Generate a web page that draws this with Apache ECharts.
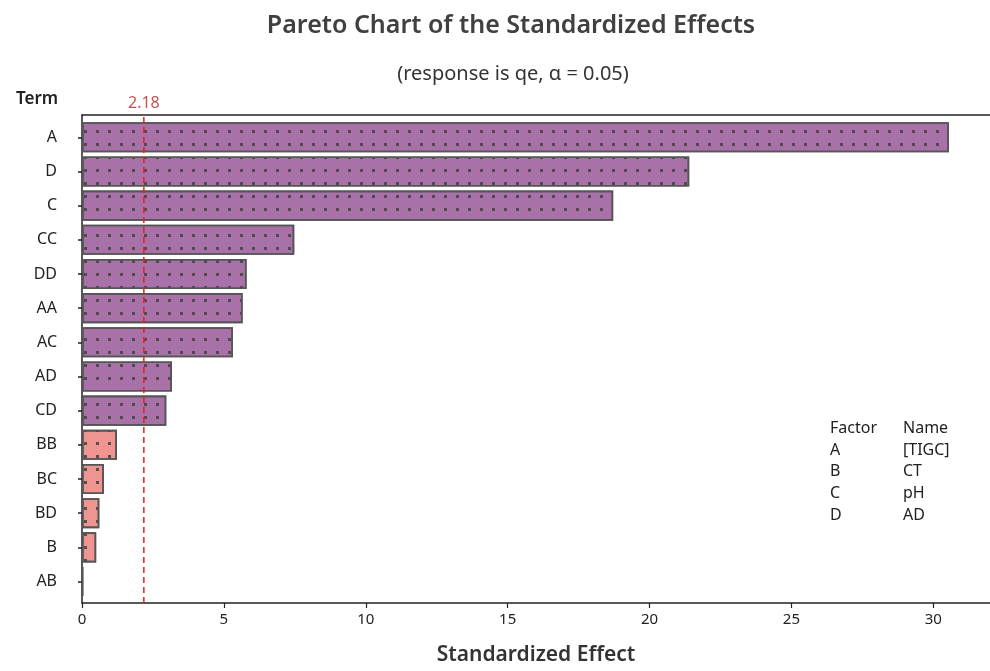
<!DOCTYPE html>
<html>
<head>
<meta charset="utf-8">
<script src="https://cdn.jsdelivr.net/npm/echarts@6/dist/echarts.min.js"></script>
<style>html,body{margin:0;padding:0;background:#fff;}#c{width:990px;height:671px;}</style>
</head>
<body>
<div id="c"></div>
<script>
const terms = ['A','D','C','CC','DD','AA','AC','AD','CD','BB','BC','BD','B','AB'];
const effects = [30.55, 21.4, 18.72, 7.48, 5.8, 5.66, 5.32, 3.17, 2.97, 1.23, 0.77, 0.61, 0.5, 0.04];
const threshold = 2.18;
const xTicks = [0, 5, 10, 15, 20, 25, 30];
const factors = ['A','B','C','D'];
const factorNames = ['[TIGC]','CT','pH','AD'];

const FONT = '"Noto Sans", "Open Sans", sans-serif';
const purple = '#a871a8';
const pink = '#ee9591';

const chart = echarts.init(document.getElementById('c'), null, {renderer: 'canvas'});

const legendTexts = [];
legendTexts.push({type:'text', left:830, top:420, style:{text:'Factor', font:'16px ' + FONT, fill:'#222'}});
legendTexts.push({type:'text', left:903, top:420, style:{text:'Name', font:'16px ' + FONT, fill:'#222'}});
factors.forEach((f, i) => {
  legendTexts.push({type:'text', left:830, top:442 + i*21.8, style:{text:f, font:'16px ' + FONT, fill:'#222'}});
  legendTexts.push({type:'text', left:903, top:442 + i*21.8, style:{text:factorNames[i], font:'16px ' + FONT, fill:'#222'}});
});

const option = {
  backgroundColor: '#fff',
  animation: false,
  title: [
    {text: 'Pareto Chart of the Standardized Effects', left: 506, top: 8, textAlign: 'center',
     textStyle: {fontFamily: FONT, fontSize: 25, fontWeight: 600, color: '#404040'}},
    {text: '(response is qe, α = 0.05)', left: 508, top: 59, textAlign: 'center',
     textStyle: {fontFamily: FONT, fontSize: 20, fontWeight: 'normal', color: '#333'}},
    {text: 'Term', left: 11, top: 86,
     textStyle: {fontFamily: FONT, fontSize: 17, fontWeight: 600, color: '#222'}}
  ],
  grid: [
    {left: 82, right: 0, top: 115, bottom: 67},
    {left: 82, right: 0, top: 120.2, bottom: 72.4}
  ],
  xAxis: [
    {type: 'value', gridIndex: 0, min: 0, max: 32, interval: 5, position: 'bottom',
     axisLine: {show: true, lineStyle: {color: '#222', width: 1.5}},
     axisTick: {show: true, length: 5, customValues: xTicks, lineStyle: {color: '#222', width: 1.2}},
     axisLabel: {show: true, margin: 9, fontFamily: FONT, fontSize: 15, color: '#222', customValues: xTicks},
     splitLine: {show: false},
     name: 'Standardized Effect', nameLocation: 'middle', nameGap: 42,
     nameTextStyle: {fontFamily: FONT, fontSize: 21, fontWeight: 600, color: '#333'}},
    {type: 'value', gridIndex: 0, min: 0, max: 32, position: 'top',
     axisLine: {show: true, lineStyle: {color: '#222', width: 1.5}},
     axisTick: {show: false}, axisLabel: {show: false}, splitLine: {show: false}},
    {type: 'value', gridIndex: 1, min: 0, max: 32, show: false}
  ],
  yAxis: [
    {type: 'value', gridIndex: 0, min: 0, max: 1,
     axisLine: {show: true, lineStyle: {color: '#222', width: 1.5}},
     axisTick: {show: false}, axisLabel: {show: false}, splitLine: {show: false}},
    {type: 'category', gridIndex: 1, data: terms, inverse: true,
     axisLine: {show: false},
     axisTick: {show: true, alignWithLabel: true, length: 4, lineStyle: {color: '#222', width: 1.5}},
     axisLabel: {margin: 25, fontFamily: FONT, fontSize: 16, color: '#222'}}
  ],
  series: [
    {
      type: 'bar', xAxisIndex: 2, yAxisIndex: 1,
      barCategoryGap: '12%',
      data: effects.map(v => ({
        value: v,
        itemStyle: {color: v > threshold ? purple : pink}
      })),
      itemStyle: {
        borderColor: '#555', borderWidth: 1.6,
        decal: {symbol: 'rect', symbolSize: 1, dashArrayX: [3, 8.7], dashArrayY: [3, 9.3], color: 'rgba(70,70,70,0.9)'}
      }
    },
    {
      type: 'line', xAxisIndex: 0, yAxisIndex: 0,
      data: [[threshold, 0], [threshold, 1]],
      symbol: 'none', silent: true,
      lineStyle: {color: '#ee1c1c', width: 1.5, type: [6, 4]}
    },
    {
      type: 'scatter', xAxisIndex: 0, yAxisIndex: 0,
      data: [[threshold, 1]], symbolSize: 0, silent: true,
      label: {show: true, position: 'top', distance: 4, formatter: () => String(threshold),
        fontFamily: FONT, fontSize: 16, color: '#b0282a'}
    }
  ],
  graphic: legendTexts
};
chart.setOption(option);
</script>
</body>
</html>
